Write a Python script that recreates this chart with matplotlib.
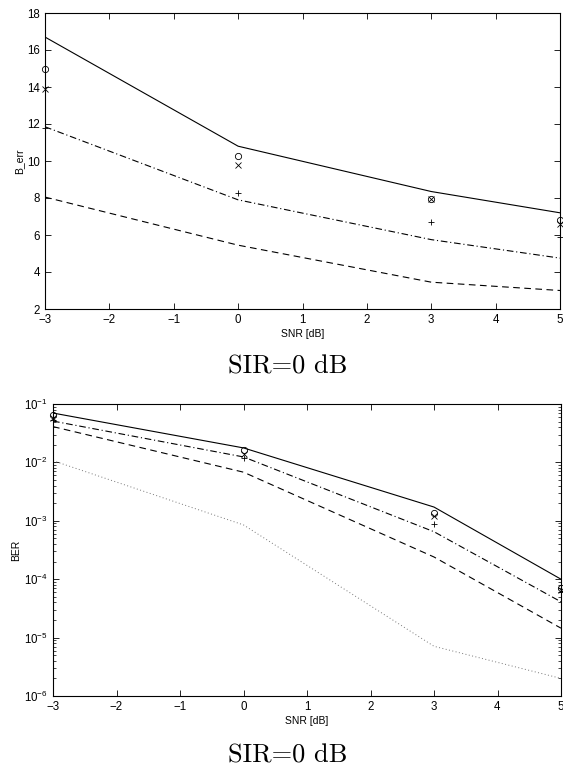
import matplotlib
matplotlib.use("Agg")
import matplotlib.pyplot as plt
import numpy as np

plt.rcParams['font.family'] = ['Liberation Sans', 'DejaVu Sans']
plt.rcParams['mathtext.fontset'] = 'custom'
plt.rcParams['mathtext.rm'] = 'Liberation Sans'
plt.rcParams['mathtext.it'] = 'Liberation Sans:italic'
plt.rcParams['axes.unicode_minus'] = True

snr = [-3, 0, 3, 5]

# block error (top panel)
berr_solid = [16.7, 10.8, 8.35, 7.2]
berr_dashdot = [11.85, 7.9, 5.75, 4.75]
berr_dashed = [8.05, 5.45, 3.45, 3.0]
berr_o = [15.0, 10.25, 7.95, 6.8]
berr_x = [13.9, 9.8, 7.95, 6.6]
berr_plus = [11.8, 8.25, 6.7, 5.9]

# bit error rate (bottom panel)
ber_solid = [0.070, 0.0177, 0.00172, 1.0e-4]
ber_dashdot = [0.051, 0.0124, 6.5e-4, 4.1e-5]
ber_dashed = [0.041, 0.0068, 2.4e-4, 1.45e-5]
ber_dotted = [0.0107, 8.5e-4, 7.1e-6, 2.0e-6]
ber_o = [0.064, 0.0162, 0.00138, 7.1e-5]
ber_x = [0.058, 0.0140, 0.00121, 6.5e-5]
ber_plus = [0.053, 0.0120, 0.00089, 6.0e-5]

xticks = [-3, -2, -1, 0, 1, 2, 3, 4, 5]
yticks_top = [2, 4, 6, 8, 10, 12, 14, 16, 18]
caption = 'SIR=0 dB'

W, H = 563, 773
fig = plt.figure(figsize=(W / 100, H / 100), dpi=100)


def box(l, t, r, b):
    return [l / W, 1 - b / H, (r - l) / W, (b - t) / H]


lw = 0.8
dash = (0, (6, 4))
dashdot = (0, (6, 2.5, 1, 2.5))
mk = dict(linestyle='none', color='black', markerfacecolor='none',
          markeredgewidth=0.6, markersize=4.5, clip_on=False)


def style(ax):
    ax.tick_params(direction='in', top=True, right=True, labelsize=8.3,
                   length=4, width=0.6, pad=3.5)
    ax.tick_params(which='minor', direction='in', top=False, right=True,
                   length=2, width=0.5)
    for s in ax.spines.values():
        s.set_linewidth(0.8)
    ax.set_xlim(-3, 5)
    ax.set_xticks(xticks)
    ax.set_xticklabels(['\u22123', '\u22122', '\u22121', '0', '1', '2', '3', '4', '5'])
    ax.set_xlabel('SNR [dB]', fontsize=7.5, labelpad=2)


def add_caption(y):
    fig.text(288 / W, 1 - y / H, caption, ha='center', va='center',
             fontsize=19, family='cmr10')


# top panel
ax1 = fig.add_axes(box(45, 13, 560, 309))
ax1.plot(snr, berr_solid, color='black', lw=lw)
ax1.plot(snr, berr_dashdot, color='black', lw=lw, linestyle=dashdot)
ax1.plot(snr, berr_dashed, color='black', lw=lw, linestyle=dash)
ax1.plot(snr, berr_o, marker='o', **mk)
ax1.plot(snr, berr_x, marker='x', **mk)
ax1.plot(snr, berr_plus, marker='+', **mk)
style(ax1)
ax1.set_ylim(2, 18)
ax1.set_yticks(yticks_top)
ax1.set_ylabel('B_err', fontsize=7.5, labelpad=2)
add_caption(367)

# bottom panel
ax2 = fig.add_axes(box(53, 404, 561, 696))
ax2.set_yscale('log')
ax2.plot(snr, ber_solid, color='black', lw=lw)
ax2.plot(snr, ber_dashdot, color='black', lw=lw, linestyle=dashdot)
ax2.plot(snr, ber_dashed, color='black', lw=lw, linestyle=dash)
ax2.plot(snr, ber_dotted, color='#777777', lw=0.7, linestyle=(0, (1, 2.5)))
ax2.plot(snr, ber_o, marker='o', **mk)
ax2.plot(snr, ber_x, marker='x', **mk)
ax2.plot(snr, ber_plus, marker='+', **mk)
style(ax2)
ax2.set_ylim(1e-6, 1e-1)
ax2.set_ylabel('BER', fontsize=7.5, labelpad=2)
add_caption(756)

fig.savefig('out.png', dpi=100)
